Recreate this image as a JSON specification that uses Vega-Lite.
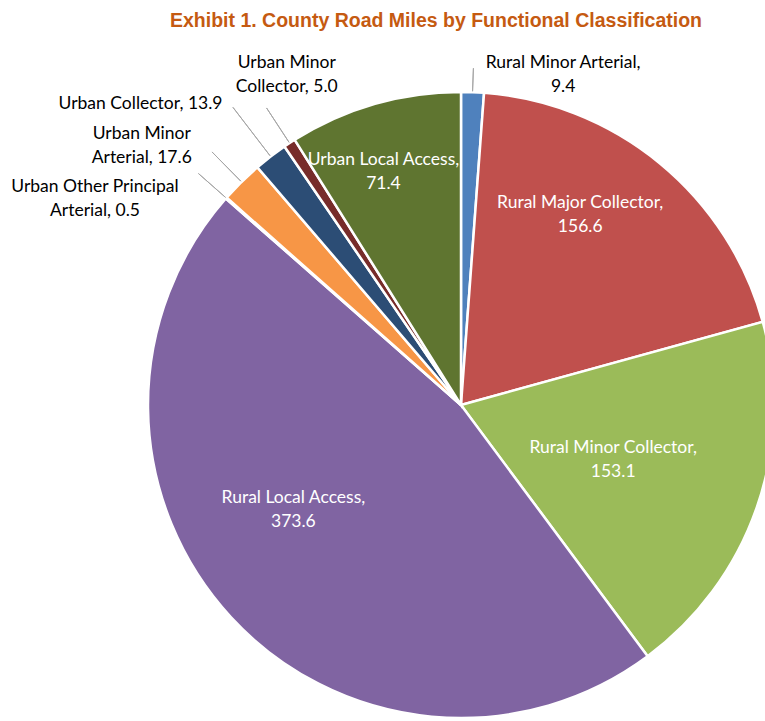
{
  "$schema": "https://vega.github.io/schema/vega-lite/v6.json",
  "width": 608,
  "height": 626,
  "autosize": "none",
  "padding": {"left": 157, "top": 92, "right": 0, "bottom": 3},
  "background": "white",
  "title": {
    "text": "Exhibit 1. County Road Miles by Functional Classification",
    "font": "Liberation Sans Narrow, Liberation Sans",
    "fontSize": 19.5,
    "fontWeight": "bold",
    "color": "#C55A11",
    "anchor": "start",
    "frame": "group",
    "dx": 13,
    "offset": -38
  },
  "config": {"view": {"stroke": null}},
  "data": {
    "values": [
      {"idx": 1, "cat": "Rural Minor Arterial", "miles": 9.4, "label": "Rural Minor Arterial,\n9.4"},
      {"idx": 2, "cat": "Rural Major Collector", "miles": 156.6, "label": "Rural Major Collector,\n156.6"},
      {"idx": 3, "cat": "Rural Minor Collector", "miles": 153.1, "label": "Rural Minor Collector,\n153.1"},
      {"idx": 4, "cat": "Rural Local Access", "miles": 373.6, "label": "Rural Local Access,\n373.6"},
      {"idx": 5, "cat": "Urban Other Principal Arterial", "miles": 0.5, "label": "Urban Other Principal\nArterial, 0.5"},
      {"idx": 6, "cat": "Urban Minor Arterial", "miles": 17.6, "label": "Urban Minor\nArterial, 17.6"},
      {"idx": 7, "cat": "Urban Collector", "miles": 13.9, "label": "Urban Collector, 13.9"},
      {"idx": 8, "cat": "Urban Minor Collector", "miles": 5.0, "label": "Urban Minor\nCollector, 5.0"},
      {"idx": 9, "cat": "Urban Local Access", "miles": 71.4, "label": "Urban Local Access,\n71.4"}
    ]
  },
  "encoding": {
    "theta": {"field": "miles", "type": "quantitative", "stack": true},
    "order": {"field": "idx", "type": "quantitative"},
    "detail": {"field": "cat", "type": "nominal"}
  },
  "layer": [
    {
      "mark": {"type": "arc", "outerRadius": 313, "stroke": "white", "strokeWidth": 2.5},
      "encoding": {
        "color": {
          "field": "cat",
          "type": "nominal",
          "legend": null,
          "scale": {
            "domain": ["Rural Minor Arterial", "Rural Major Collector", "Rural Minor Collector", "Rural Local Access", "Urban Other Principal Arterial", "Urban Minor Arterial", "Urban Collector", "Urban Minor Collector", "Urban Local Access"],
            "range": ["#4F81BD", "#C0504D", "#9BBB59", "#8064A2", "#4BACC6", "#F79646", "#2C4D75", "#772C2A", "#5F7530"]
          }
        }
      }
    },
    {
      "mark": {"type": "arc", "innerRadius": 314, "outerRadius": 337, "padAngle": 3, "fill": null, "stroke": "#A6A6A6", "strokeWidth": 1},
      "encoding": {"strokeOpacity": {"condition": {"test": "datum.cat === 'Rural Minor Arterial'", "value": 1}, "value": 0}}
    },
    {
      "mark": {"type": "arc", "innerRadius": 314, "outerRadius": 355, "padAngle": 3, "fill": null, "stroke": "#A6A6A6", "strokeWidth": 1},
      "encoding": {"strokeOpacity": {"condition": {"test": "datum.cat === 'Urban Minor Collector'", "value": 1}, "value": 0}}
    },
    {
      "mark": {"type": "arc", "innerRadius": 314, "outerRadius": 375, "padAngle": 3, "fill": null, "stroke": "#A6A6A6", "strokeWidth": 1},
      "encoding": {"strokeOpacity": {"condition": {"test": "datum.cat === 'Urban Collector'", "value": 1}, "value": 0}}
    },
    {
      "mark": {"type": "arc", "innerRadius": 314, "outerRadius": 355, "padAngle": 3, "fill": null, "stroke": "#A6A6A6", "strokeWidth": 1},
      "encoding": {"strokeOpacity": {"condition": {"test": "datum.cat === 'Urban Minor Arterial'", "value": 1}, "value": 0}}
    },
    {
      "mark": {"type": "arc", "innerRadius": 314, "outerRadius": 350, "padAngle": 3, "fill": null, "stroke": "#A6A6A6", "strokeWidth": 1},
      "encoding": {"strokeOpacity": {"condition": {"test": "datum.cat === 'Urban Other Principal Arterial'", "value": 1}, "value": 0}}
    },
    {
      "mark": {"type": "text", "radius": 224, "dx": -23, "dy": -29, "font": "Lato", "fontSize": 17.5, "color": "white", "lineBreak": "\n", "lineHeight": 24, "align": "center", "baseline": "middle"},
      "encoding": {"text": {"condition": {"test": "datum.cat === 'Rural Major Collector'", "field": "label"}, "value": ""}}
    },
    {
      "mark": {"type": "text", "radius": 162, "dx": -1, "dy": -10, "font": "Lato", "fontSize": 17.5, "color": "white", "lineBreak": "\n", "lineHeight": 24, "align": "center", "baseline": "middle"},
      "encoding": {"text": {"condition": {"test": "datum.cat === 'Rural Minor Collector'", "field": "label"}, "value": ""}}
    },
    {
      "mark": {"type": "text", "radius": 198, "dx": -22, "dy": -41, "font": "Lato", "fontSize": 17.5, "color": "white", "lineBreak": "\n", "lineHeight": 24, "align": "center", "baseline": "middle"},
      "encoding": {"text": {"condition": {"test": "datum.cat === 'Rural Local Access'", "field": "label"}, "value": ""}}
    },
    {
      "mark": {"type": "text", "radius": 248, "dx": -9, "dy": -7, "font": "Lato", "fontSize": 17.5, "color": "white", "lineBreak": "\n", "lineHeight": 24, "align": "center", "baseline": "middle"},
      "encoding": {"text": {"condition": {"test": "datum.cat === 'Urban Local Access'", "field": "label"}, "value": ""}}
    },
    {
      "mark": {"type": "text", "radius": 330, "dx": 90, "dy": -12, "font": "Lato", "fontSize": 17.5, "color": "black", "lineBreak": "\n", "lineHeight": 24, "align": "center", "baseline": "middle"},
      "encoding": {"text": {"condition": {"test": "datum.cat === 'Rural Minor Arterial'", "field": "label"}, "value": ""}}
    },
    {
      "mark": {"type": "text", "radius": 373, "dx": 30, "dy": -30, "font": "Lato", "fontSize": 17.5, "color": "black", "lineBreak": "\n", "lineHeight": 24, "align": "center", "baseline": "middle"},
      "encoding": {"text": {"condition": {"test": "datum.cat === 'Urban Minor Collector'", "field": "label"}, "value": ""}}
    },
    {
      "mark": {"type": "text", "radius": 384, "dx": -5, "dy": 4, "font": "Lato", "fontSize": 17.5, "color": "black", "lineBreak": "\n", "lineHeight": 24, "align": "right", "baseline": "middle"},
      "encoding": {"text": {"condition": {"test": "datum.cat === 'Urban Collector'", "field": "label"}, "value": ""}}
    },
    {
      "mark": {"type": "text", "radius": 411, "dx": -31, "dy": 22, "font": "Lato", "fontSize": 17.5, "color": "black", "lineBreak": "\n", "lineHeight": 24, "align": "center", "baseline": "middle"},
      "encoding": {"text": {"condition": {"test": "datum.cat === 'Urban Minor Arterial'", "field": "label"}, "value": ""}}
    },
    {
      "mark": {"type": "text", "radius": 420, "dx": -51, "dy": 60, "font": "Lato", "fontSize": 17.5, "color": "black", "lineBreak": "\n", "lineHeight": 24, "align": "center", "baseline": "middle"},
      "encoding": {"text": {"condition": {"test": "datum.cat === 'Urban Other Principal Arterial'", "field": "label"}, "value": ""}}
    }
  ]
}
